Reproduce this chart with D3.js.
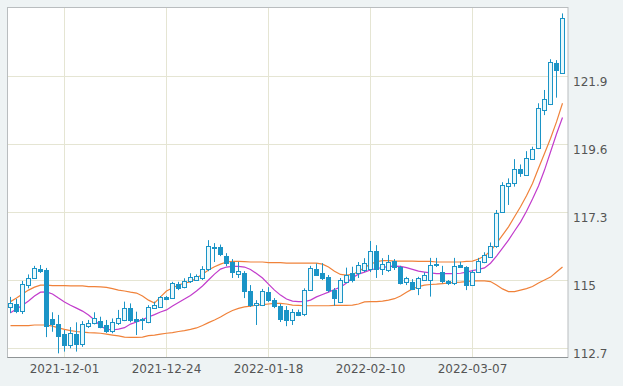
<!DOCTYPE html>
<html lang="en">
<head>
<meta charset="utf-8">
<title>Candlestick with bands</title>
<script src="https://d3js.org/d3.v7.min.js"></script>
<style>
  body { margin: 0; background: #eef3f4; }
  svg { display: block; }
  .tick text { font-family: "DejaVu Sans", sans-serif; font-size: 12px; fill: #555; }
</style>
</head>
<body>
<script>
// trading days, 2021-11-18 .. 2022-03-28
var categories = [
  "2021-11-18","2021-11-19","2021-11-22","2021-11-23","2021-11-24","2021-11-25","2021-11-26","2021-11-29","2021-11-30",
  "2021-12-01","2021-12-02","2021-12-03","2021-12-06","2021-12-07","2021-12-08","2021-12-09","2021-12-10","2021-12-13",
  "2021-12-14","2021-12-15","2021-12-16","2021-12-17","2021-12-20","2021-12-21","2021-12-22","2021-12-23","2021-12-24",
  "2021-12-27","2021-12-28","2021-12-29","2021-12-30","2021-12-31",
  "2022-01-03","2022-01-04","2022-01-05","2022-01-06","2022-01-07","2022-01-10","2022-01-11","2022-01-12","2022-01-13",
  "2022-01-14","2022-01-17","2022-01-18","2022-01-19","2022-01-20","2022-01-21","2022-01-24","2022-01-25","2022-01-26",
  "2022-01-27","2022-01-28","2022-01-31",
  "2022-02-01","2022-02-02","2022-02-03","2022-02-04","2022-02-07","2022-02-08","2022-02-09","2022-02-10","2022-02-11",
  "2022-02-14","2022-02-15","2022-02-16","2022-02-17","2022-02-18","2022-02-21","2022-02-22","2022-02-23","2022-02-24",
  "2022-02-25","2022-02-28",
  "2022-03-01","2022-03-02","2022-03-03","2022-03-04","2022-03-07","2022-03-08","2022-03-09","2022-03-10","2022-03-11",
  "2022-03-14","2022-03-15","2022-03-16","2022-03-17","2022-03-18","2022-03-21","2022-03-22","2022-03-23","2022-03-24",
  "2022-03-25","2022-03-28"
];

var opens = [
  114.06,114.19,113.93,114.85,115.08,115.38,115.34,113.68,113.50,113.16,112.78,113.16,112.83,113.45,113.57,113.61,
  113.48,113.25,113.57,113.65,114.04,113.68,113.68,113.59,114.06,114.10,114.44,114.38,114.85,114.77,114.94,115.03,
  115.06,115.36,116.13,116.13,115.81,115.61,115.20,115.25,114.63,114.15,114.14,114.60,114.32,114.12,113.99,113.65,
  113.93,113.84,114.66,115.39,115.24,115.11,114.66,114.27,114.94,115.23,115.23,115.34,115.36,115.98,115.36,115.34,
  115.64,115.45,114.92,114.94,114.72,115.00,115.00,115.48,115.26,114.97,114.89,115.51,115.43,114.85,115.26,115.60,
  115.79,116.13,117.31,118.16,118.27,118.74,118.55,119.12,119.45,120.78,120.94,122.33,122.02
];
var highs = [
  114.43,114.36,114.97,115.19,115.48,115.51,115.41,113.91,113.82,113.31,113.41,113.57,113.61,113.65,113.91,113.76,
  113.65,113.70,113.99,114.27,114.21,113.93,113.72,114.15,114.27,114.46,114.46,114.94,114.94,115.06,115.23,115.19,
  115.47,116.35,116.25,116.20,115.91,115.71,115.61,115.30,114.83,114.32,114.70,114.76,114.39,114.19,114.12,114.02,
  114.00,114.72,115.48,115.56,115.57,115.17,114.73,115.07,115.42,115.45,115.61,115.74,116.32,116.18,115.74,115.85,
  115.71,115.48,115.11,115.03,115.11,115.26,115.75,115.75,115.48,115.00,115.75,115.62,115.47,115.34,115.75,115.94,
  116.27,117.37,118.31,118.44,119.09,118.91,119.36,119.51,120.98,121.43,122.47,122.44,124.02
];
var lows = [
  113.88,113.88,113.85,114.72,115.06,115.24,113.07,113.25,112.52,112.58,112.69,112.58,112.74,113.38,113.50,113.37,
  113.21,113.20,113.48,113.61,113.57,113.14,113.31,113.54,114.02,114.08,114.32,114.36,114.66,114.72,114.90,115.00,
  115.00,115.30,115.61,115.81,115.47,115.07,115.07,114.39,114.09,113.48,114.12,114.26,114.05,113.58,113.44,113.48,
  113.78,113.78,114.63,115.14,115.00,114.59,114.13,114.22,114.90,114.92,115.07,115.27,115.27,115.07,115.17,115.27,
  115.34,114.85,114.83,114.66,114.49,114.97,114.44,115.44,114.89,114.83,114.83,115.41,114.66,114.80,115.24,115.57,
  115.76,116.09,117.29,117.54,118.16,118.49,118.53,119.09,119.43,120.58,120.92,121.17,122.00
];
var closes = [
  114.21,113.95,114.85,115.08,115.42,115.31,113.46,113.50,113.08,112.78,113.20,112.83,113.50,113.54,113.73,113.42,
  113.28,113.57,113.73,114.04,113.65,113.61,113.64,114.10,114.15,114.44,114.36,114.89,114.72,114.97,115.09,115.15,
  115.37,116.15,116.08,115.88,115.56,115.27,115.30,114.63,114.14,114.21,114.63,114.32,114.12,113.68,113.65,113.93,
  113.84,114.66,115.40,115.20,115.08,114.66,114.40,115.00,115.17,115.00,115.51,115.59,115.98,115.37,115.53,115.62,
  115.45,114.92,115.06,114.72,115.06,115.17,115.51,115.53,114.94,114.89,115.48,115.43,114.81,115.28,115.64,115.85,
  116.16,117.26,118.21,118.27,118.75,118.61,119.12,119.45,120.81,121.14,122.36,122.10,123.87
];

var upperBand = [
  114.27,114.39,114.53,114.66,114.76,114.83,114.83,114.81,114.81,114.81,114.80,114.80,114.80,114.78,114.78,114.77,
  114.75,114.71,114.66,114.63,114.59,114.56,114.46,114.32,114.22,114.43,114.63,114.73,114.83,114.90,114.94,115.07,
  115.20,115.34,115.45,115.54,115.61,115.63,115.63,115.62,115.61,115.61,115.61,115.59,115.59,115.59,115.57,115.57,
  115.57,115.57,115.57,115.57,115.54,115.44,115.30,115.19,115.17,115.19,115.29,115.42,115.54,115.62,115.66,115.66,
  115.64,115.64,115.64,115.64,115.63,115.63,115.63,115.61,115.61,115.61,115.61,115.61,115.63,115.64,115.71,115.81,
  115.98,116.24,116.52,116.80,117.14,117.48,117.85,118.27,118.78,119.28,119.79,120.35,120.98
];
var middleLine = [
  113.89,114.02,114.15,114.29,114.46,114.59,114.60,114.53,114.39,114.26,114.15,114.05,113.95,113.82,113.65,113.44,
  113.34,113.31,113.34,113.39,113.51,113.58,113.66,113.75,113.83,113.92,113.99,114.12,114.24,114.36,114.48,114.63,
  114.80,115.00,115.20,115.37,115.44,115.46,115.46,115.44,115.36,115.22,115.07,114.86,114.66,114.49,114.36,114.29,
  114.27,114.27,114.32,114.43,114.51,114.59,114.68,114.76,114.90,115.08,115.20,115.27,115.34,115.39,115.42,115.46,
  115.47,115.46,115.42,115.36,115.30,115.27,115.24,115.22,115.22,115.22,115.22,115.23,115.27,115.32,115.36,115.41,
  115.57,115.81,116.08,116.35,116.66,116.96,117.33,117.74,118.18,118.72,119.33,119.94,120.50
];
var lowerBand = [
  113.46,113.46,113.46,113.46,113.48,113.48,113.48,113.44,113.38,113.33,113.29,113.26,113.24,113.22,113.21,113.20,
  113.17,113.14,113.11,113.07,113.06,113.06,113.07,113.12,113.14,113.17,113.20,113.22,113.26,113.29,113.33,113.38,
  113.46,113.56,113.65,113.75,113.87,113.97,114.04,114.09,114.12,114.15,114.17,114.19,114.21,114.21,114.19,114.15,
  114.14,114.13,114.13,114.13,114.13,114.13,114.14,114.14,114.14,114.15,114.19,114.26,114.27,114.27,114.29,114.32,
  114.37,114.46,114.59,114.70,114.78,114.83,114.85,114.86,114.88,114.90,114.92,114.93,114.95,114.97,114.97,114.97,
  114.95,114.83,114.70,114.61,114.61,114.66,114.71,114.78,114.90,115.00,115.10,115.27,115.44
];

var yTicks = [112.7, 115, 117.3, 119.6, 121.9];
var xTickLabels = ["2021-12-01", "2021-12-24", "2022-01-18", "2022-02-10", "2022-03-07"];

var width = 623, height = 386;
var plotLeft = 7.5, plotRight = 568, plotTop = 7.5, plotBottom = 357.5;
var blue = "#1b94c6", orange = "#f0823a", magenta = "#c23ccc";

var svg = d3.select("body").append("svg")
    .attr("width", width)
    .attr("height", height);

var x = d3.scaleBand()
    .domain(categories)
    .range([plotLeft, 565.5])
    .padding(0);
var y = d3.scaleLinear()
    .domain([112.38, 124.22])
    .range([plotBottom, plotTop]);

function cx(d) { return x(d) + x.bandwidth() / 2; }
function crisp(v) { return Math.round(v - 0.5) + 0.5; }

// plot background
svg.append("rect")
    .attr("x", plotLeft).attr("y", plotTop)
    .attr("width", plotRight - plotLeft).attr("height", plotBottom - plotTop)
    .attr("fill", "#fff");

// grid
var grid = svg.append("g").attr("stroke", "#e5e5d3").attr("stroke-width", 1);
grid.selectAll(".hg").data(yTicks).enter().append("line")
    .attr("x1", plotLeft).attr("x2", plotRight)
    .attr("y1", function (d) { return crisp(y(d)); })
    .attr("y2", function (d) { return crisp(y(d)); });
grid.selectAll(".vg").data(xTickLabels).enter().append("line")
    .attr("y1", plotTop).attr("y2", plotBottom)
    .attr("x1", function (d) { return crisp(cx(d)); })
    .attr("x2", function (d) { return crisp(cx(d)); });

// frame
svg.append("rect")
    .attr("x", plotLeft).attr("y", plotTop)
    .attr("width", plotRight - plotLeft).attr("height", plotBottom - plotTop)
    .attr("fill", "none").attr("stroke", "#b9bdbf");
svg.append("line")
    .attr("x1", plotLeft).attr("x2", plotRight)
    .attr("y1", plotBottom).attr("y2", plotBottom)
    .attr("stroke", "#8f9496");

// band lines
function lineFor(values) {
    return d3.line()
        .x(function (d, i) { return cx(categories[i]); })
        .y(function (d) { return y(d); })(values);
}
svg.append("path").attr("d", lineFor(upperBand))
    .attr("fill", "none").attr("stroke", orange).attr("stroke-width", 1.2);
svg.append("path").attr("d", lineFor(lowerBand))
    .attr("fill", "none").attr("stroke", orange).attr("stroke-width", 1.2);
svg.append("path").attr("d", lineFor(middleLine))
    .attr("fill", "none").attr("stroke", magenta).attr("stroke-width", 1.2);

// candles
var candles = categories.map(function (c, i) {
    return { date: c, o: opens[i], h: highs[i], l: lows[i], c: closes[i] };
});
var candle = svg.append("g").selectAll(".candle").data(candles).enter().append("g");
candle.append("line")
    .attr("x1", function (d) { return cx(d.date); })
    .attr("x2", function (d) { return cx(d.date); })
    .attr("y1", function (d) { return y(d.h); })
    .attr("y2", function (d) { return y(d.l); })
    .attr("stroke", blue).attr("stroke-width", 1);
candle.append("rect")
    .attr("x", function (d) { return cx(d.date) - 2; })
    .attr("width", 4)
    .attr("y", function (d) { return Math.round(y(Math.max(d.o, d.c))) + 0.5; })
    .attr("height", function (d) {
        return Math.max(1, Math.round(Math.abs(y(d.o) - y(d.c))));
    })
    .attr("fill", function (d) { return d.c >= d.o ? "#eaf9fc" : blue; })
    .attr("stroke", blue).attr("stroke-width", 1);

// axes
var yAxis = svg.append("g")
    .attr("transform", "translate(" + plotRight + ",0)")
    .call(d3.axisRight(y).tickValues(yTicks).tickSize(0).tickPadding(5)
        .tickFormat(function (d) { return String(d); }));
yAxis.select(".domain").remove();
yAxis.selectAll("text").attr("dy", 9);

var xAxis = svg.append("g")
    .attr("transform", "translate(0," + plotBottom + ")")
    .call(d3.axisBottom(x).tickValues(xTickLabels).tickSize(0).tickPadding(7));
xAxis.select(".domain").remove();
</script>
</body>
</html>
